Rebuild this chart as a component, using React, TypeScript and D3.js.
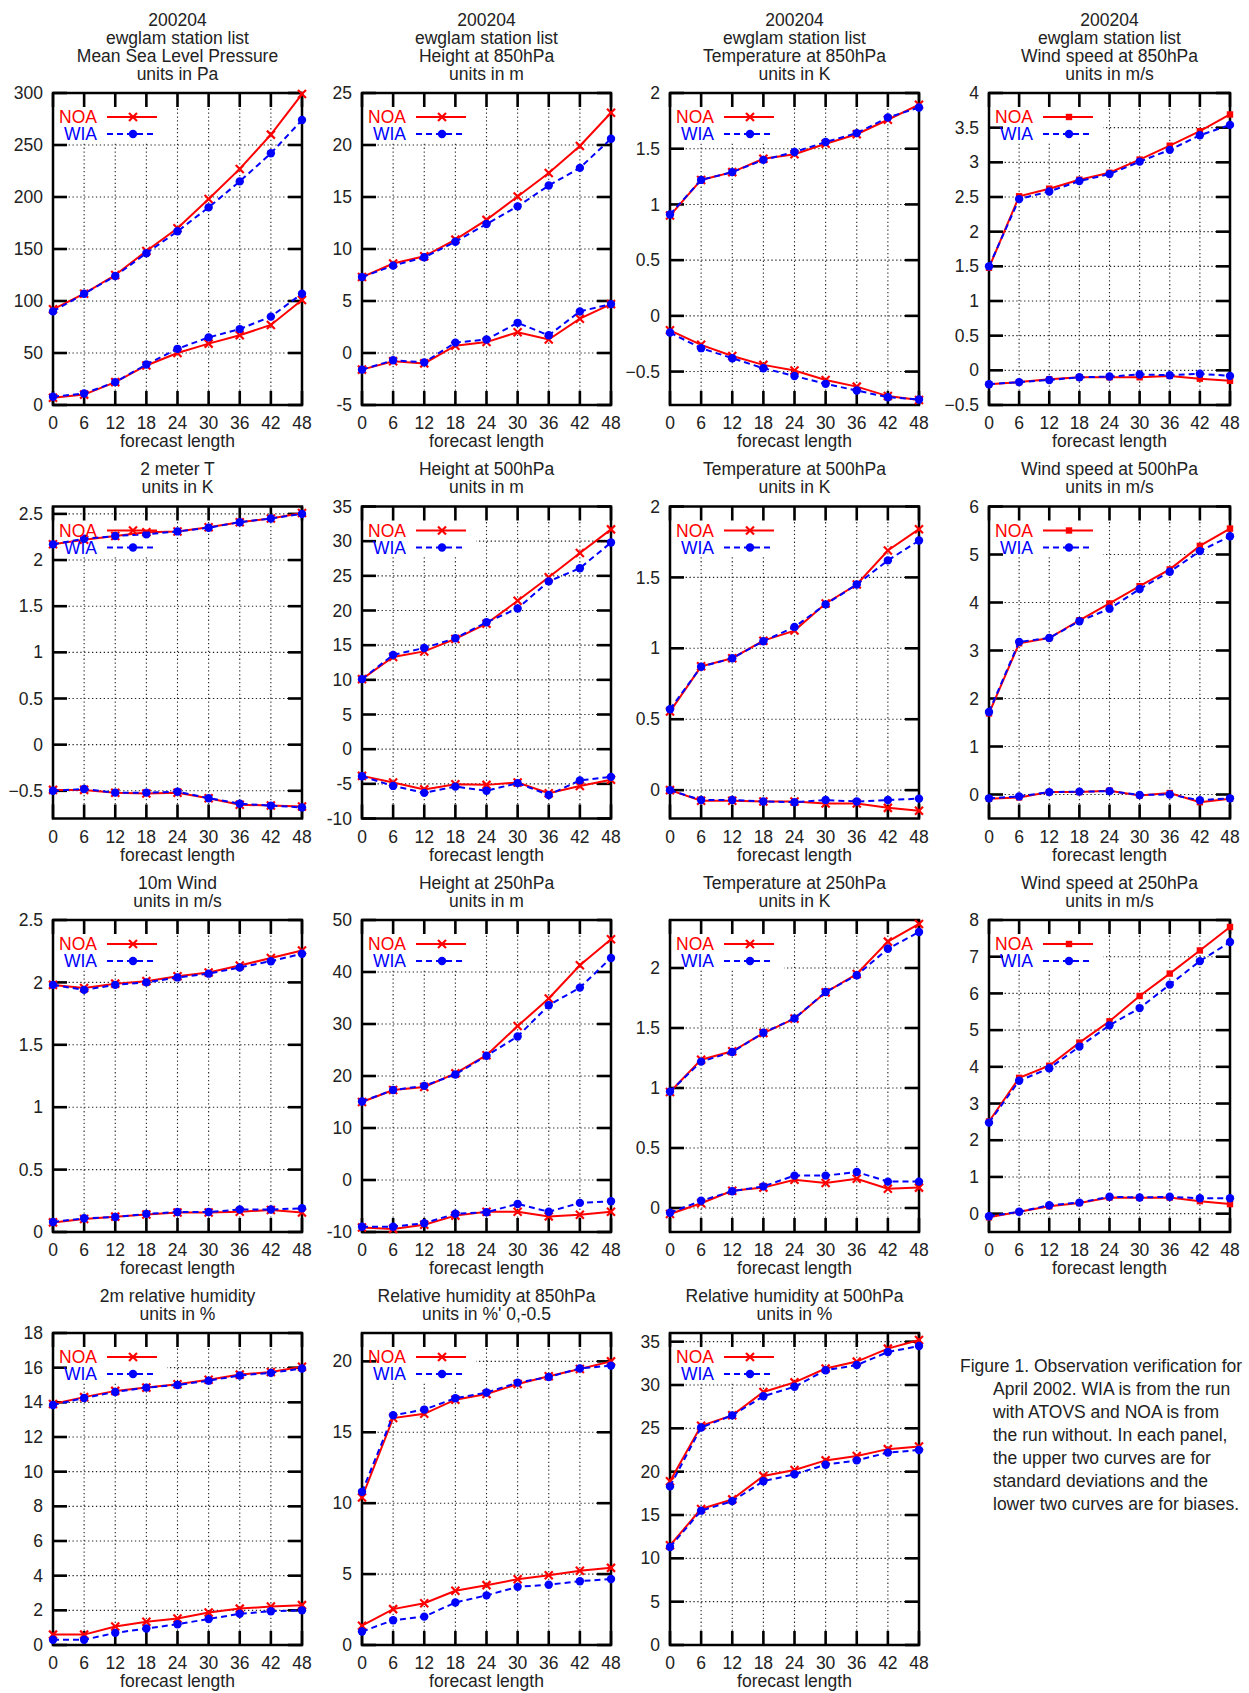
import React from 'react';
import * as d3 from 'd3';

// ---------- data ----------
const leadTimes = [0, 6, 12, 18, 24, 30, 36, 42, 48];

// Mean Sea Level Pressure (Pa)
const mslpNoaStd = [92, 107, 125, 148, 170, 198, 227, 260, 299];
const mslpWiaStd = [90, 107, 124, 146, 167, 190, 215, 242, 274];
const mslpNoaBias = [7, 10, 22, 38, 50, 59, 67, 77, 101];
const mslpWiaBias = [8, 11, 22, 39, 54, 65, 73, 85, 107];
const mslpTicks = [0, 50, 100, 150, 200, 250, 300];

// Height at 850hPa (m)
const z850NoaStd = [7.3, 8.6, 9.3, 10.9, 12.8, 15.05, 17.3, 19.9, 23.1];
const z850WiaStd = [7.3, 8.4, 9.2, 10.7, 12.4, 14.1, 16.1, 17.8, 20.6];
const z850NoaBias = [-1.6, -0.8, -1.0, 0.7, 1.05, 2.0, 1.3, 3.3, 4.7];
const z850WiaBias = [-1.6, -0.7, -0.9, 1.0, 1.3, 2.9, 1.7, 4.0, 4.7];
const z850Ticks = [-5, 0, 5, 10, 15, 20, 25];

// Temperature at 850hPa (K)
const t850NoaStd = [0.9, 1.22, 1.29, 1.41, 1.45, 1.545, 1.63, 1.76, 1.895];
const t850WiaStd = [0.91, 1.22, 1.29, 1.4, 1.47, 1.56, 1.64, 1.78, 1.87];
const t850NoaBias = [-0.13, -0.26, -0.36, -0.44, -0.49, -0.575, -0.635, -0.72, -0.755];
const t850WiaBias = [-0.15, -0.29, -0.38, -0.47, -0.54, -0.61, -0.67, -0.73, -0.75];
const t850Ticks = [-0.5, 0, 0.5, 1, 1.5, 2];

// Wind speed at 850hPa (m/s)
const w850NoaStd = [1.48, 2.51, 2.62, 2.75, 2.85, 3.04, 3.24, 3.45, 3.69];
const w850WiaStd = [1.5, 2.47, 2.58, 2.73, 2.83, 3.01, 3.18, 3.39, 3.54];
const w850NoaBias = [-0.2, -0.17, -0.13, -0.1, -0.1, -0.1, -0.08, -0.12, -0.15];
const w850WiaBias = [-0.2, -0.17, -0.14, -0.1, -0.09, -0.06, -0.07, -0.05, -0.08];
const w850Ticks = [-0.5, 0, 0.5, 1, 1.5, 2, 2.5, 3, 3.5, 4];

// 2 meter T (K)
const t2mNoaStd = [2.17, 2.22, 2.26, 2.3, 2.31, 2.355, 2.41, 2.45, 2.51];
const t2mWiaStd = [2.17, 2.23, 2.26, 2.28, 2.31, 2.35, 2.41, 2.45, 2.5];
const t2mNoaBias = [-0.49, -0.49, -0.52, -0.53, -0.52, -0.58, -0.65, -0.66, -0.67];
const t2mWiaBias = [-0.5, -0.48, -0.52, -0.52, -0.51, -0.58, -0.64, -0.66, -0.68];
const t2mTicks = [-0.5, 0, 0.5, 1, 1.5, 2, 2.5];

// Height at 500hPa (m)
const z500NoaStd = [10.1, 13.3, 14.1, 15.9, 18.1, 21.4, 24.8, 28.3, 31.7];
const z500WiaStd = [10.1, 13.6, 14.6, 16.0, 18.3, 20.3, 24.2, 26.1, 29.8];
const z500NoaBias = [-3.85, -4.8, -5.8, -5.05, -5.15, -4.8, -6.35, -5.3, -4.4];
const z500WiaBias = [-3.9, -5.3, -6.3, -5.4, -6.0, -4.9, -6.6, -4.5, -4.0];
const z500Ticks = [-10, -5, 0, 5, 10, 15, 20, 25, 30, 35];

// Temperature at 500hPa (K)
const t500NoaStd = [0.554, 0.873, 0.93, 1.054, 1.125, 1.316, 1.45, 1.69, 1.84];
const t500WiaStd = [0.57, 0.87, 0.93, 1.05, 1.15, 1.31, 1.45, 1.62, 1.76];
const t500NoaBias = [0, -0.075, -0.075, -0.08, -0.08, -0.094, -0.094, -0.125, -0.146];
const t500WiaBias = [0, -0.07, -0.07, -0.08, -0.085, -0.07, -0.08, -0.07, -0.06];
const t500Ticks = [0, 0.5, 1, 1.5, 2];

// Wind speed at 500hPa (m/s)
const w500NoaStd = [1.69, 3.15, 3.26, 3.63, 3.98, 4.34, 4.69, 5.18, 5.54];
const w500WiaStd = [1.72, 3.18, 3.26, 3.61, 3.87, 4.28, 4.64, 5.07, 5.38];
const w500NoaBias = [-0.09, -0.06, 0.05, 0.05, 0.08, -0.02, 0.03, -0.16, -0.09];
const w500WiaBias = [-0.08, -0.04, 0.05, 0.06, 0.07, -0.01, 0.0, -0.12, -0.08];
const w500Ticks = [0, 1, 2, 3, 4, 5, 6];

// 10m Wind (m/s)
const w10mNoaStd = [1.98, 1.955, 1.99, 2.01, 2.05, 2.08, 2.135, 2.195, 2.255];
const w10mWiaStd = [1.98, 1.94, 1.98, 2.0, 2.04, 2.07, 2.12, 2.17, 2.23];
const w10mNoaBias = [0.077, 0.104, 0.123, 0.141, 0.157, 0.157, 0.163, 0.176, 0.157];
const w10mWiaBias = [0.08, 0.11, 0.12, 0.145, 0.16, 0.16, 0.18, 0.18, 0.19];
const w10mTicks = [0, 0.5, 1, 1.5, 2, 2.5];

// Height at 250hPa (m)
const z250NoaStd = [15.0, 17.3, 17.9, 20.5, 24.0, 29.6, 34.9, 41.3, 46.3];
const z250WiaStd = [15.1, 17.3, 18.1, 20.3, 23.9, 27.6, 33.6, 37.0, 42.7];
const z250NoaBias = [-9.15, -9.4, -8.6, -6.85, -6.1, -6.1, -7.0, -6.7, -6.1];
const z250WiaBias = [-9.0, -9.0, -8.3, -6.5, -6.2, -4.6, -6.1, -4.4, -4.1];
const z250Ticks = [-10, 0, 10, 20, 30, 40, 50];

// Temperature at 250hPa (K)
const t250NoaStd = [0.967, 1.236, 1.306, 1.458, 1.578, 1.797, 1.95, 2.22, 2.367];
const t250WiaStd = [0.97, 1.22, 1.3, 1.46, 1.58, 1.8, 1.94, 2.16, 2.3];
const t250NoaBias = [-0.05, 0.04, 0.144, 0.17, 0.236, 0.208, 0.244, 0.16, 0.17];
const t250WiaBias = [-0.04, 0.06, 0.14, 0.18, 0.27, 0.27, 0.3, 0.22, 0.22];
const t250Ticks = [0, 0.5, 1, 1.5, 2];

// Wind speed at 250hPa (m/s)
const w250NoaStd = [2.51, 3.7, 4.03, 4.66, 5.24, 5.93, 6.54, 7.17, 7.81];
const w250WiaStd = [2.48, 3.62, 3.96, 4.55, 5.13, 5.6, 6.24, 6.88, 7.4];
const w250NoaBias = [-0.1, 0.05, 0.2, 0.29, 0.44, 0.43, 0.44, 0.34, 0.26];
const w250WiaBias = [-0.07, 0.05, 0.23, 0.3, 0.46, 0.44, 0.46, 0.42, 0.42];
const w250Ticks = [0, 1, 2, 3, 4, 5, 6, 7, 8];

// 2m relative humidity (%)
const rh2mNoaStd = [13.9, 14.3, 14.66, 14.85, 15.04, 15.3, 15.6, 15.75, 16.05];
const rh2mWiaStd = [13.85, 14.25, 14.6, 14.85, 15.0, 15.25, 15.55, 15.7, 15.95];
const rh2mNoaBias = [0.6, 0.6, 1.07, 1.34, 1.53, 1.88, 2.1, 2.22, 2.3];
const rh2mWiaBias = [0.3, 0.3, 0.7, 0.95, 1.2, 1.5, 1.8, 1.95, 2.0];
const rh2mTicks = [0, 2, 4, 6, 8, 10, 12, 14, 16, 18];

// Relative humidity at 850hPa (%)
const rh850NoaStd = [10.4, 16.0, 16.3, 17.3, 17.7, 18.4, 18.95, 19.46, 20.0];
const rh850WiaStd = [10.8, 16.2, 16.6, 17.4, 17.8, 18.5, 18.9, 19.5, 19.7];
const rh850NoaBias = [1.36, 2.53, 2.95, 3.82, 4.22, 4.64, 4.92, 5.23, 5.44];
const rh850WiaBias = [0.95, 1.75, 2.0, 3.0, 3.5, 4.1, 4.25, 4.5, 4.65];
const rh850Ticks = [0, 5, 10, 15, 20];

// Relative humidity at 500hPa (%)
const rh500NoaStd = [18.9, 25.3, 26.5, 29.2, 30.3, 31.9, 32.7, 34.2, 35.2];
const rh500WiaStd = [18.3, 25.1, 26.5, 28.7, 29.8, 31.7, 32.3, 33.8, 34.5];
const rh500NoaBias = [11.5, 15.7, 16.8, 19.5, 20.2, 21.3, 21.8, 22.6, 22.9];
const rh500WiaBias = [11.3, 15.5, 16.6, 18.9, 19.7, 20.8, 21.3, 22.2, 22.5];
const rh500Ticks = [0, 5, 10, 15, 20, 25, 30, 35];

const headerLines = ['200204', 'ewglam station list'];

const captionLines = [
  'Figure 1. Observation verification for',
  'April 2002. WIA is from the run',
  'with ATOVS and NOA is from',
  'the run without. In each panel,',
  'the upper two curves are for',
  'standard deviations and the',
  'lower two curves are for biases.',
];

type PanelDef = {
  title: string[];
  domain: [number, number];
  ticks: number[];
  noaStd: number[];
  wiaStd: number[];
  noaBias: number[];
  wiaBias: number[];
  square?: boolean;
};

const panels: PanelDef[] = [
  { title: [...headerLines, 'Mean Sea Level Pressure', 'units in Pa'], domain: [0, 300], ticks: mslpTicks, noaStd: mslpNoaStd, wiaStd: mslpWiaStd, noaBias: mslpNoaBias, wiaBias: mslpWiaBias },
  { title: [...headerLines, 'Height at 850hPa', 'units in m'], domain: [-5, 25], ticks: z850Ticks, noaStd: z850NoaStd, wiaStd: z850WiaStd, noaBias: z850NoaBias, wiaBias: z850WiaBias },
  { title: [...headerLines, 'Temperature at 850hPa', 'units in K'], domain: [-0.8, 2], ticks: t850Ticks, noaStd: t850NoaStd, wiaStd: t850WiaStd, noaBias: t850NoaBias, wiaBias: t850WiaBias },
  { title: [...headerLines, 'Wind speed at 850hPa', 'units in m/s'], domain: [-0.5, 4], ticks: w850Ticks, noaStd: w850NoaStd, wiaStd: w850WiaStd, noaBias: w850NoaBias, wiaBias: w850WiaBias, square: true },
  { title: ['2 meter T', 'units in K'], domain: [-0.8, 2.58], ticks: t2mTicks, noaStd: t2mNoaStd, wiaStd: t2mWiaStd, noaBias: t2mNoaBias, wiaBias: t2mWiaBias },
  { title: ['Height at 500hPa', 'units in m'], domain: [-10, 35], ticks: z500Ticks, noaStd: z500NoaStd, wiaStd: z500WiaStd, noaBias: z500NoaBias, wiaBias: z500WiaBias },
  { title: ['Temperature at 500hPa', 'units in K'], domain: [-0.2, 2], ticks: t500Ticks, noaStd: t500NoaStd, wiaStd: t500WiaStd, noaBias: t500NoaBias, wiaBias: t500WiaBias },
  { title: ['Wind speed at 500hPa', 'units in m/s'], domain: [-0.5, 6], ticks: w500Ticks, noaStd: w500NoaStd, wiaStd: w500WiaStd, noaBias: w500NoaBias, wiaBias: w500WiaBias, square: true },
  { title: ['10m Wind', 'units in m/s'], domain: [0, 2.5], ticks: w10mTicks, noaStd: w10mNoaStd, wiaStd: w10mWiaStd, noaBias: w10mNoaBias, wiaBias: w10mWiaBias },
  { title: ['Height at 250hPa', 'units in m'], domain: [-10, 50], ticks: z250Ticks, noaStd: z250NoaStd, wiaStd: z250WiaStd, noaBias: z250NoaBias, wiaBias: z250WiaBias },
  { title: ['Temperature at 250hPa', 'units in K'], domain: [-0.2, 2.4], ticks: t250Ticks, noaStd: t250NoaStd, wiaStd: t250WiaStd, noaBias: t250NoaBias, wiaBias: t250WiaBias },
  { title: ['Wind speed at 250hPa', 'units in m/s'], domain: [-0.5, 8], ticks: w250Ticks, noaStd: w250NoaStd, wiaStd: w250WiaStd, noaBias: w250NoaBias, wiaBias: w250WiaBias, square: true },
  { title: ['2m relative humidity', 'units in %'], domain: [0, 18], ticks: rh2mTicks, noaStd: rh2mNoaStd, wiaStd: rh2mWiaStd, noaBias: rh2mNoaBias, wiaBias: rh2mWiaBias },
  { title: ['Relative humidity at 850hPa', "units in %' 0,-0.5"], domain: [0, 22], ticks: rh850Ticks, noaStd: rh850NoaStd, wiaStd: rh850WiaStd, noaBias: rh850NoaBias, wiaBias: rh850WiaBias },
  { title: ['Relative humidity at 500hPa', 'units in %'], domain: [0, 36], ticks: rh500Ticks, noaStd: rh500NoaStd, wiaStd: rh500WiaStd, noaBias: rh500NoaBias, wiaBias: rh500WiaBias },
];

// ---------- layout ----------
const W = 1249;
const H = 1693;
const COLS: [number, number][] = [[53, 302], [362, 611], [670, 919], [989, 1230]];
const ROW_TOP = [93, 506.5, 920, 1333];
const PLOT_H = 312;
const FONT = '"Liberation Sans", Arial, Helvetica, sans-serif';
const FS = 17.5;
const TXT = '#222';
const RED = '#ff0000';
const BLUE = '#0000ff';
const TICK = 14;

const fmt = (v: number) => (Number.isInteger(v) ? String(v) : d3.format('.1f')(v));

function XMark({ cx, cy, s, square }: { cx: number; cy: number; s: number; square?: boolean }) {
  if (square) {
    return <rect x={cx - 3.2} y={cy - 3.2} width={6.4} height={6.4} fill={RED} />;
  }
  return (
    <g stroke={RED} strokeWidth={2.2}>
      <line x1={cx - s} y1={cy - s} x2={cx + s} y2={cy + s} />
      <line x1={cx - s} y1={cy + s} x2={cx + s} y2={cy - s} />
    </g>
  );
}

function Panel({ p, idx }: { p: PanelDef; idx: number }) {
  const col = idx % 4;
  const row = Math.floor(idx / 4);
  const [x0, x1] = COLS[col];
  const top = ROW_TOP[row];
  const bottom = top + PLOT_H;
  const x = d3.scaleLinear().domain([0, 48]).range([x0, x1]);
  const y = d3.scaleLinear().domain(p.domain).range([bottom, top]);
  const line = d3
    .line<number>()
    .x((_, i) => x(leadTimes[i]))
    .y((d) => y(d));
  const cxm = (x0 + x1) / 2;
  const nT = p.title.length;

  const noaSeries = [p.noaStd, p.noaBias];
  const wiaSeries = [p.wiaStd, p.wiaBias];

  return (
    <g>
      {/* titles */}
      {p.title.map((t, i) => (
        <text key={i} x={cxm} y={top - 19.5 - (nT - 1 - i) * 18} dy="0.35em" textAnchor="middle" fontSize={FS} fill={TXT}>
          {t}
        </text>
      ))}
      {/* grid */}
      <g stroke="#222" strokeWidth={1.1} strokeDasharray="1.3,2.6">
        {p.ticks.map((t) => (
          <line key={'gy' + t} x1={x0} x2={x1} y1={y(t)} y2={y(t)} />
        ))}
        {leadTimes.map((t) => (
          <line key={'gx' + t} x1={x(t)} x2={x(t)} y1={top} y2={bottom} />
        ))}
      </g>
      {/* opaque key */}
      <rect x={x0 + 2} y={top + 10} width={112} height={40} fill="#fff" />
      {/* ticks */}
      <g stroke="#000" strokeWidth={2.6}>
        {p.ticks.map((t) => (
          <g key={'ty' + t}>
            <line x1={x0} x2={x0 + TICK} y1={y(t)} y2={y(t)} />
            <line x1={x1 - TICK} x2={x1} y1={y(t)} y2={y(t)} />
          </g>
        ))}
        {leadTimes.map((t) => (
          <g key={'tx' + t}>
            <line x1={x(t)} x2={x(t)} y1={bottom} y2={bottom - TICK} />
            <line x1={x(t)} x2={x(t)} y1={top} y2={top + TICK} />
          </g>
        ))}
      </g>
      {/* frame */}
      <rect x={x0} y={top} width={x1 - x0} height={PLOT_H} fill="none" stroke="#000" strokeWidth={2.5} />
      {/* tick labels */}
      {p.ticks.map((t) => (
        <text key={'ly' + t} x={x0 - 10} y={y(t)} dy="0.35em" textAnchor="end" fontSize={FS} fill={TXT}>
          {fmt(t)}
        </text>
      ))}
      {leadTimes.map((t) => (
        <text key={'lx' + t} x={x(t)} y={bottom + 18} dy="0.35em" textAnchor="middle" fontSize={FS} fill={TXT}>
          {t}
        </text>
      ))}
      <text x={cxm} y={bottom + 36} dy="0.35em" textAnchor="middle" fontSize={FS} fill={TXT}>
        forecast length
      </text>
      {/* NOA curves */}
      {noaSeries.map((s, si) => (
        <g key={'noa' + si}>
          <path d={line(s) || ''} fill="none" stroke={RED} strokeWidth={2} />
          {s.map((v, i) => (
            <XMark key={i} cx={x(leadTimes[i])} cy={y(v)} s={4} square={p.square} />
          ))}
        </g>
      ))}
      {/* WIA curves */}
      {wiaSeries.map((s, si) => (
        <g key={'wia' + si}>
          <path d={line(s) || ''} fill="none" stroke={BLUE} strokeWidth={2} strokeDasharray="6,4" />
          {s.map((v, i) => (
            <circle key={i} cx={x(leadTimes[i])} cy={y(v)} r={4.2} fill={BLUE} />
          ))}
        </g>
      ))}
      {/* legend */}
      <text x={x0 + 44} y={top + 24} dy="0.35em" textAnchor="end" fontSize={FS} fill={RED}>
        NOA
      </text>
      <line x1={x0 + 54} x2={x0 + 104} y1={top + 24} y2={top + 24} stroke={RED} strokeWidth={2} />
      <XMark cx={x0 + 80} cy={top + 24} s={4} square={p.square} />
      <text x={x0 + 44} y={top + 41} dy="0.35em" textAnchor="end" fontSize={FS} fill={BLUE}>
        WIA
      </text>
      <line x1={x0 + 54} x2={x0 + 104} y1={top + 41} y2={top + 41} stroke={BLUE} strokeWidth={2} strokeDasharray="6,4" />
      <circle cx={x0 + 80} cy={top + 41} r={4.2} fill={BLUE} />
    </g>
  );
}

export default function App() {
  return (
    <svg
      width={W}
      height={H}
      viewBox={`0 0 ${W} ${H}`}
      style={{ position: 'absolute', left: 0, top: 0, background: '#fff', fontFamily: FONT }}
    >
      <rect x={0} y={0} width={W} height={H} fill="#fff" />
      {panels.map((p, i) => (
        <Panel key={i} p={p} idx={i} />
      ))}
      {captionLines.map((t, i) => (
        <text key={i} x={i === 0 ? 960 : 993} y={1366 + i * 22.9} dy="0.35em" fontSize={FS} fill={TXT}>
          {t}
        </text>
      ))}
    </svg>
  );
}
